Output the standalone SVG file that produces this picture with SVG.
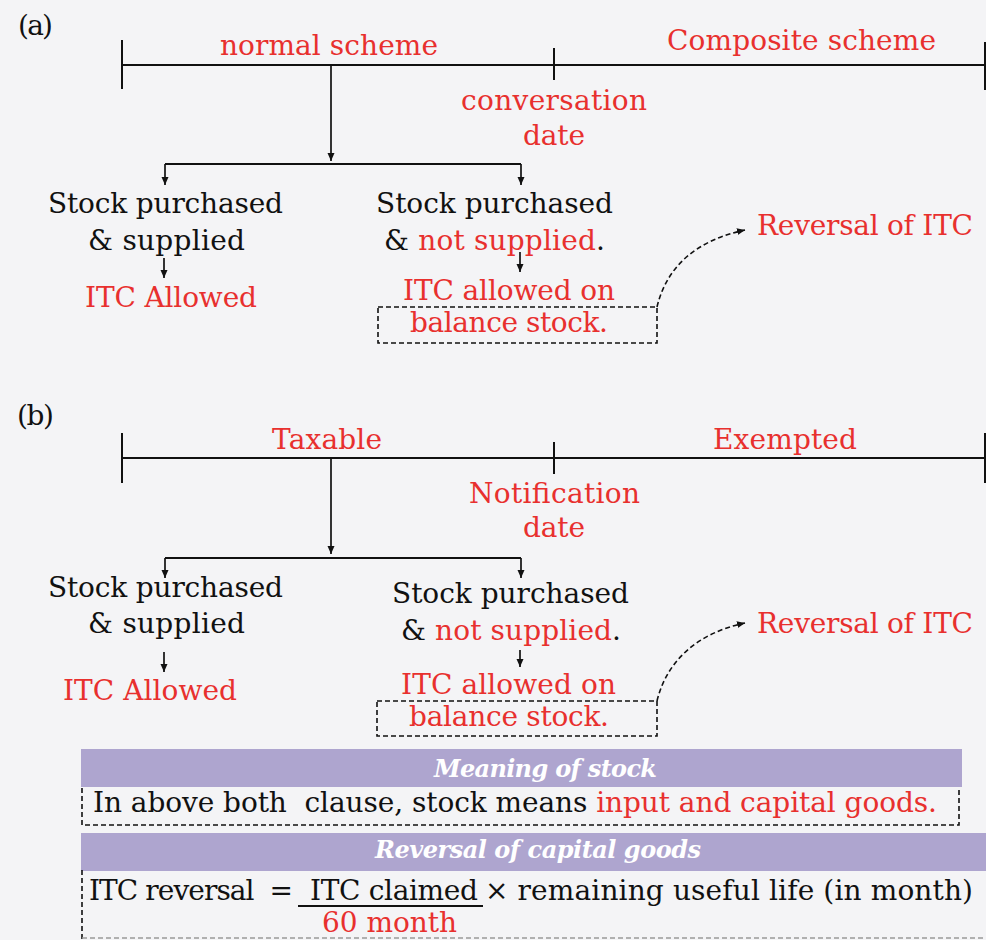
<svg xmlns="http://www.w3.org/2000/svg" width="986" height="940" viewBox="0 0 986 940">
<style>
.t{font-family:"DejaVu Serif","Liberation Serif",serif;font-size:28px;fill:#111;}
.r{fill:#e8302e;}
.h{font-family:"DejaVu Serif","Liberation Serif",serif;font-size:24px;font-weight:bold;font-style:italic;fill:#fff;}
.ln{stroke:#111;stroke-width:2;fill:none;}
.ar{stroke:#111;stroke-width:1.7;fill:none;marker-end:url(#ah);}
.dash{stroke:#111;stroke-width:1.6;fill:none;stroke-dasharray:5 3;}
.bar{fill:#aea5cf;}
</style>
<defs>
<marker id="ah" markerUnits="userSpaceOnUse" markerWidth="9" markerHeight="9" refX="8" refY="4.5" orient="auto">
<path d="M0,1 L8,4.5 L0,8 z" fill="#111"/>
</marker>
</defs>
<rect width="986" height="940" fill="#f4f4f6"/>

<g id="connectors">
<path class="ln" d="M122,65 H986 M122,40 V89 M554,48 V80 M985,42 V90"/>
<path class="ar" d="M331,65 V161"/>
<path class="ln" d="M165,164 H521"/>
<path class="ar" d="M165,164 V185"/>
<path class="ar" d="M521,164 V185"/>
<path class="ar" d="M164,258 V278"/>
<path class="ar" d="M520,252 V272"/>
<path class="dash" d="M657,307 C667,265 698,240 745,230" marker-end="url(#ah)"/>
<path class="ln" d="M122,458 H986 M122,433 V483 M554,442 V474 M985,433 V483"/>
<path class="ar" d="M331,458 V554"/>
<path class="ln" d="M165,558 H521"/>
<path class="ar" d="M165,558 V578"/>
<path class="ar" d="M521,558 V578"/>
<path class="ar" d="M164,652 V672"/>
<path class="ar" d="M520,650 V667"/>
<path class="dash" d="M657,701 C667,660 698,633 745,623" marker-end="url(#ah)"/>
</g>

<g id="label-a"><text class="t" x="18" y="35" textLength="35">(a)</text></g>
<g id="a-normal"><text class="t r" x="220" y="55" textLength="218">normal scheme</text></g>
<g id="a-composite"><text class="t r" x="667" y="50" textLength="269">Composite scheme</text></g>
<g id="a-date">
<text class="t r" x="461" y="110" textLength="186">conversation</text>
<text class="t r" x="523" y="145" textLength="62">date</text>
</g>
<g id="a-left">
<text class="t" x="48" y="213" textLength="235">Stock purchased</text>
<text class="t" x="88" y="250" textLength="157">&amp; supplied</text>
</g>
<g id="a-left-itc"><text class="t r" x="85" y="307" textLength="172">ITC Allowed</text></g>
<g id="a-right">
<text class="t" x="376" y="213" textLength="237">Stock purchased</text>
<text class="t" x="384" y="250" textLength="221">&amp; <tspan class="r">not supplied</tspan>.</text>
</g>
<g id="a-right-itc">
<rect class="dash" x="378" y="307" width="279" height="36"/>
<text class="t r" x="403" y="300" textLength="212">ITC allowed on</text>
<text class="t r" x="410" y="332" textLength="198">balance stock.</text>
</g>
<g id="a-reversal"><text class="t r" x="757" y="235" textLength="216">Reversal of ITC</text></g>

<g id="label-b"><text class="t" x="17" y="425" textLength="37">(b)</text></g>
<g id="b-taxable"><text class="t r" x="272" y="449" textLength="110">Taxable</text></g>
<g id="b-exempted"><text class="t r" x="713" y="449" textLength="144">Exempted</text></g>
<g id="b-date">
<text class="t r" x="469" y="503" textLength="171">Notification</text>
<text class="t r" x="523" y="537" textLength="62">date</text>
</g>
<g id="b-left">
<text class="t" x="48" y="597" textLength="235">Stock purchased</text>
<text class="t" x="88" y="633" textLength="157">&amp; supplied</text>
</g>
<g id="b-left-itc"><text class="t r" x="63" y="700" textLength="174">ITC Allowed</text></g>
<g id="b-right">
<text class="t" x="392" y="603" textLength="237">Stock purchased</text>
<text class="t" x="401" y="640" textLength="220">&amp; <tspan class="r">not supplied</tspan>.</text>
</g>
<g id="b-right-itc">
<rect class="dash" x="377" y="701" width="280" height="35"/>
<text class="t r" x="401" y="694" textLength="215">ITC allowed on</text>
<text class="t r" x="409" y="726" textLength="200">balance stock.</text>
</g>
<g id="b-reversal"><text class="t r" x="757" y="633" textLength="216">Reversal of ITC</text></g>

<g id="meaning">
<rect class="bar" x="81" y="749" width="881" height="38"/>
<text class="h" x="434" y="777" textLength="223">Meaning of stock</text>
<path class="dash" d="M82,788 V825 H959 V788"/>
<text class="t" x="93" y="812" font-size="26" textLength="844" style="white-space:pre">In above both  clause, stock means <tspan class="r">input and capital goods.</tspan></text>
</g>

<g id="capital">
<rect class="bar" x="81" y="833" width="905" height="38"/>
<text class="h" x="375" y="858" textLength="326">Reversal of capital goods</text>
<path class="dash" d="M82,870 V940"/>
<path d="M82,938 H986" stroke="#999" stroke-width="1.5" stroke-dasharray="5 3" fill="none"/>
<text class="t" x="89" y="900" font-size="26" textLength="204" style="white-space:pre">ITC reversal  =</text>
<text class="t" x="310" y="900" font-size="26" textLength="168">ITC claimed</text>
<path class="ln" d="M298,906 H483"/>
<text class="t" x="485" y="900" font-size="26" textLength="488">× remaining useful life (in month)</text>
<text class="t r" x="322" y="932" font-size="24" textLength="135">60 month</text>
</g>
</svg>
